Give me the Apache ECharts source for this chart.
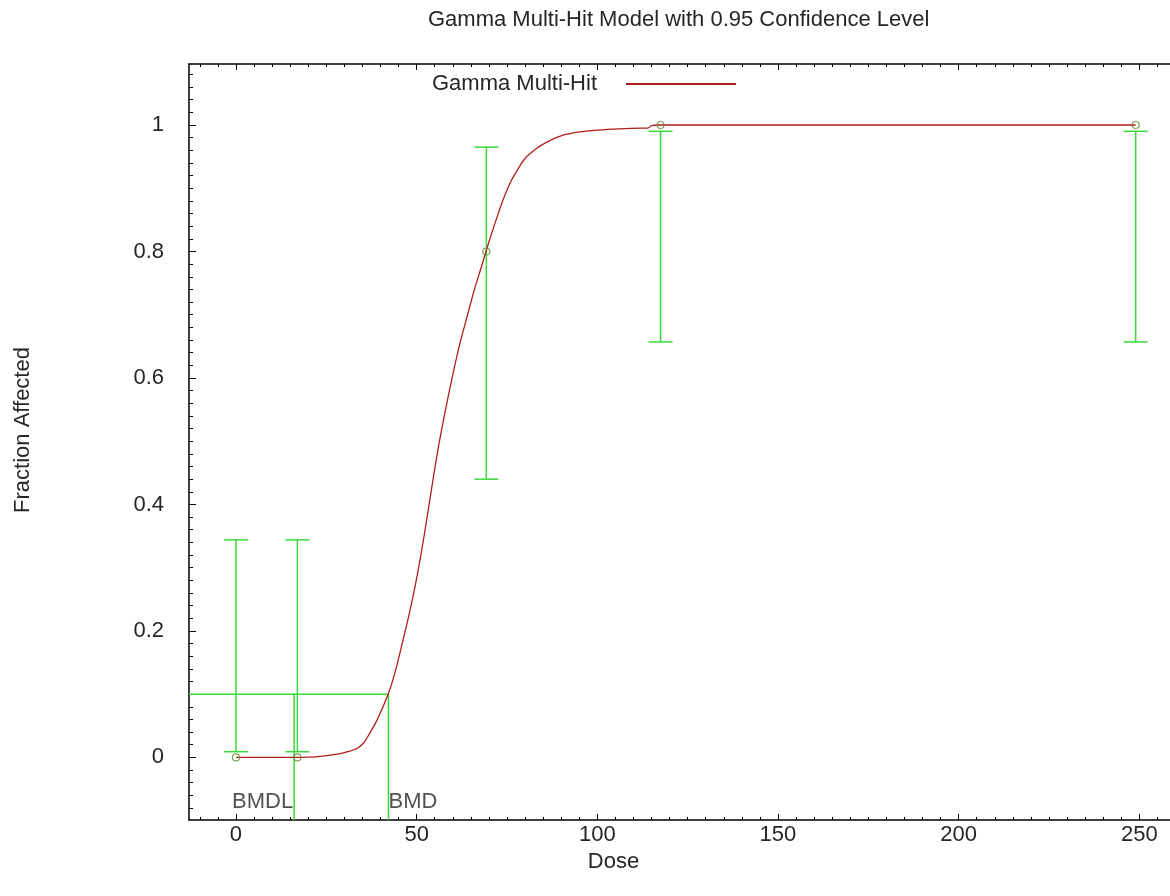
<!DOCTYPE html>
<html><head><meta charset="utf-8">
<script src="https://cdn.jsdelivr.net/npm/echarts@6/dist/echarts.min.js"></script>
<style>html,body{margin:0;padding:0;background:#fff}#c{width:1170px;height:896px}</style>
</head><body><div id="c"></div>
<script>
// ---- data ----
const doses     = [0, 17, 69.3, 117.5, 249];
const fractions = [0, 0, 0.8, 1.0, 1.0];
const lowerCL   = [0.009, 0.009, 0.44, 0.657, 0.657];
const upperCL   = [0.344, 0.344, 0.965, 0.99, 0.99];
const curveDose = [0, 10, 20, 24, 28, 31, 33.5, 35.5, 37, 38.5, 40, 42.2, 44, 46, 48, 50, 52, 54, 56, 58, 60, 62, 64, 66, 68, 70, 72, 74, 76, 78, 80, 83, 86, 90, 95, 100, 106, 112, 114, 115, 117, 249];
const curveFrac = [0, 0, 0.0005, 0.002, 0.005, 0.009, 0.014, 0.024, 0.038, 0.053, 0.071, 0.101, 0.134, 0.18, 0.228, 0.283, 0.348, 0.42, 0.49, 0.55, 0.605, 0.655, 0.698, 0.74, 0.777, 0.815, 0.85, 0.883, 0.91, 0.93, 0.947, 0.962, 0.973, 0.983, 0.989, 0.992, 0.994, 0.995, 0.995, 0.999, 1, 1];
const bmdl = 16.1, bmd = 42.2, bmr = 0.1;
const xMajorTicks = [0, 50, 100, 150, 200, 250];
const yMajorTicks = [0, 0.2, 0.4, 0.6, 0.8, 1];
const titleText = 'Gamma Multi-Hit Model with 0.95 Confidence Level';
const seriesName = 'Gamma Multi-Hit';
const xName = 'Dose', yName = 'Fraction Affected';

const X_MIN = -13, X_MAX = 258.5, Y_MIN = -0.099, Y_MAX = 1.0965;
const xMinorTicks = []; for (let v = -10; v <= 255; v += 5) if (v % 50 !== 0) xMinorTicks.push(v);
const yMinorTicks = []; for (let k = -4; k <= 54; k++) if (k % 10 !== 0) yMinorTicks.push(+(k * 0.02).toFixed(2));

const FONT = 'Liberation Sans, Arial, sans-serif';
const GREEN = '#3ad83a', RED = '#b01e1e', TXT = '#262626';

const chart = echarts.init(document.getElementById('c'), null, {renderer: 'canvas'});

function xAx(pos, ticks, len, showLine, labels) {
  return {
    type: 'value', position: pos, min: X_MIN, max: X_MAX, gridIndex: 0,
    axisLine: {show: showLine, onZero: false, lineStyle: {color: '#000', width: 1.5}},
    axisTick: {show: true, inside: true, length: len, customValues: ticks, lineStyle: {color: '#000', width: 1}},
    axisLabel: labels ? {show: true, customValues: ticks, fontSize: 22, color: TXT, fontFamily: FONT, margin: 4} : {show: false},
    splitLine: {show: false}, minorTick: {show: false}
  };
}
function yAx(ticks, len, showLine, labels) {
  return {
    type: 'value', position: 'left', min: Y_MIN, max: Y_MAX, gridIndex: 0,
    axisLine: {show: showLine, onZero: false, lineStyle: {color: '#000', width: 1.5}},
    axisTick: {show: true, inside: true, length: len, customValues: ticks, lineStyle: {color: '#000', width: 1}},
    axisLabel: labels ? {show: true, customValues: ticks, fontSize: 22, color: TXT, fontFamily: FONT, margin: 25,
      formatter: v => String(+v.toFixed(2))} : {show: false},
    splitLine: {show: false}, minorTick: {show: false}
  };
}

const xMain = xAx('bottom', xMajorTicks, 6, true, true);
Object.assign(xMain, {name: xName, nameLocation: 'middle', nameGap: 31, nameMoveOverlap: false,
  nameTextStyle: {fontSize: 22, color: TXT, fontFamily: FONT, padding: [0, 132, 0, 0]}});
const yMain = yAx(yMajorTicks, 7, true, true);
Object.assign(yMain, {name: yName, nameLocation: 'middle', nameGap: 155, nameRotate: 90,
  nameTextStyle: {fontSize: 22, color: TXT, fontFamily: FONT, padding: [0, 0, 0, 24]}});

chart.setOption({
  animation: false,
  backgroundColor: '#fff',
  title: {text: titleText, left: 423, top: 4,
    textStyle: {fontSize: 22, fontWeight: 'normal', color: TXT, fontFamily: FONT}},
  legend: {
    data: [{name: seriesName, icon: 'rect'}],
    left: 432, top: 73, padding: 0, align: 'right',
    itemWidth: 110, itemHeight: 2,
    textStyle: {fontSize: 22, color: TXT, fontFamily: FONT, padding: [0, 24, 0, 0]}
  },
  grid: {left: 189, top: 64, right: 0, bottom: 76},
  xAxis: [xMain, xAx('bottom', xMinorTicks, 3, false, false),
          xAx('top', xMajorTicks, 6, true, false), xAx('top', xMinorTicks, 3, false, false)],
  yAxis: [yMain, yAx(yMinorTicks, 4, false, false)],
  series: [
    {
      name: 'BMR', type: 'line', xAxisIndex: 0, yAxisIndex: 0, symbol: 'none', silent: true,
      data: [[X_MIN, bmr], [bmd, bmr], [bmd, Y_MIN]],
      lineStyle: {color: GREEN, width: 1.5}, z: 2
    },
    {
      name: 'BMDLline', type: 'line', xAxisIndex: 0, yAxisIndex: 0, symbol: 'none', silent: true,
      data: [[bmdl, bmr], [bmdl, Y_MIN]],
      lineStyle: {color: GREEN, width: 1.5}, z: 2
    },
    {
      name: 'errbars', type: 'custom', xAxisIndex: 0, yAxisIndex: 0, silent: true, z: 3,
      data: doses.map((d, i) => [d, lowerCL[i], upperCL[i]]),
      renderItem: function (params, api) {
        const x = api.value(0);
        const lo = api.coord([x, api.value(1)]);
        const hi = api.coord([x, api.value(2)]);
        const w = 12, st = {stroke: GREEN, lineWidth: 1.5};
        return {type: 'group', children: [
          {type: 'line', shape: {x1: lo[0], y1: lo[1], x2: hi[0], y2: hi[1]}, style: st},
          {type: 'line', shape: {x1: lo[0] - w, y1: lo[1], x2: lo[0] + w, y2: lo[1]}, style: st},
          {type: 'line', shape: {x1: hi[0] - w, y1: hi[1], x2: hi[0] + w, y2: hi[1]}, style: st}
        ]};
      }
    },
    {
      name: seriesName, type: 'line', xAxisIndex: 0, yAxisIndex: 0, symbol: 'none',
      smooth: 0.3,
      data: curveDose.map((d, i) => [d, curveFrac[i]]),
      lineStyle: {color: RED, width: 1.3}, itemStyle: {color: RED}, z: 4
    },
    {
      name: 'obs', type: 'scatter', xAxisIndex: 0, yAxisIndex: 0, symbol: 'circle', symbolSize: 7, z: 5,
      data: doses.map((d, i) => [d, fractions[i]]),
      itemStyle: {color: 'rgba(255,255,255,0)', borderColor: '#5a8a2a', borderWidth: 1.2}
    },
    {
      name: 'labels', type: 'scatter', xAxisIndex: 0, yAxisIndex: 0, symbolSize: 0, z: 6, silent: true,
      data: [
        {value: [bmdl, -0.07], label: {formatter: 'BMDL', position: 'left', distance: 1}},
        {value: [bmd, -0.07], label: {formatter: 'BMD', position: 'right', distance: 0}}
      ],
      label: {show: true, fontSize: 22, color: TXT, fontFamily: FONT}
    }
  ]
});
</script></body></html>
